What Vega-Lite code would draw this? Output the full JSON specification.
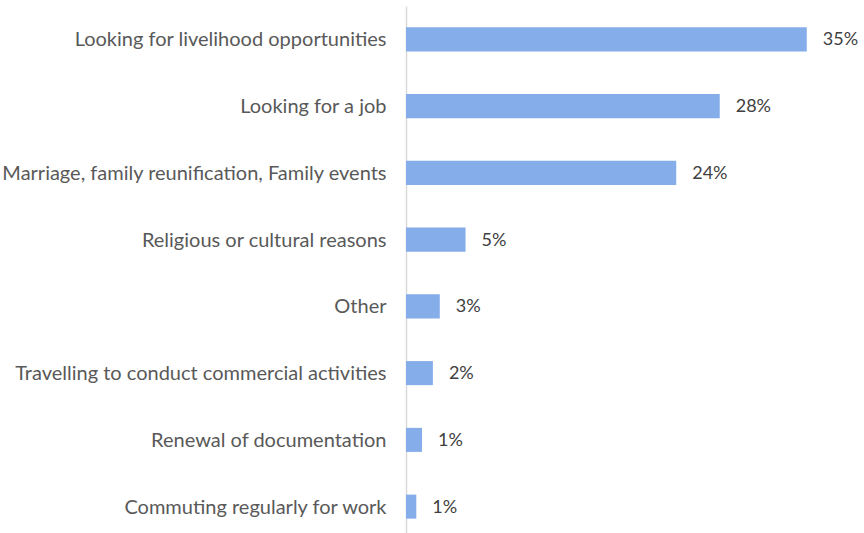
{
  "$schema": "https://vega.github.io/schema/vega-lite/v6.json",
  "width": 458,
  "height": 534,
  "autosize": {"type": "none"},
  "padding": {"left": 406, "top": 6, "right": 0, "bottom": 0},
  "background": "white",
  "config": {"view": {"stroke": null}, "font": "Lato"},
  "data": {
    "values": [
      {"reason": "Looking for livelihood opportunities", "value": 35.0, "label": "35%"},
      {"reason": "Looking for a job", "value": 27.4, "label": "28%"},
      {"reason": "Marriage, family reunification, Family events", "value": 23.6, "label": "24%"},
      {"reason": "Religious or cultural reasons", "value": 5.2, "label": "5%"},
      {"reason": "Other", "value": 2.95, "label": "3%"},
      {"reason": "Travelling to conduct commercial activities", "value": 2.35, "label": "2%"},
      {"reason": "Renewal of documentation", "value": 1.4, "label": "1%"},
      {"reason": "Commuting regularly for work", "value": 0.9, "label": "1%"}
    ]
  },
  "encoding": {
    "y": {
      "field": "reason",
      "type": "nominal",
      "sort": null,
      "scale": {"paddingInner": 0.64, "paddingOuter": 0.32},
      "axis": {
        "title": null,
        "ticks": false,
        "domainColor": "#d9d9d9",
        "domainWidth": 1.5,
        "labelFontSize": 20,
        "labelColor": "#595959",
        "labelPadding": 20,
        "labelLimit": 420,
        "labelFont": "Lato",
        "labelOffset": 1
      }
    },
    "x": {
      "field": "value",
      "type": "quantitative",
      "scale": {"domain": [0, 40], "nice": false},
      "axis": null
    }
  },
  "layer": [
    {"mark": {"type": "bar", "color": "#85ADEA"}},
    {
      "mark": {"type": "text", "align": "left", "baseline": "middle", "dx": 16, "dy": 1, "fontSize": 18, "color": "#404040", "font": "Lato"},
      "encoding": {"text": {"field": "label"}}
    }
  ]
}
